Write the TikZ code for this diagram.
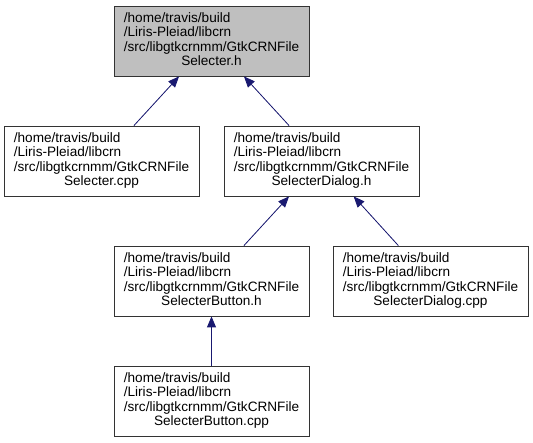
\documentclass[tikz,border=0pt]{standalone}
\usepackage{fontspec}
\setmainfont{Liberation Sans}
\usetikzlibrary{arrows.meta}

\definecolor{midnightblue}{HTML}{191970}
\definecolor{headergray}{HTML}{BFBFBF}

% file path text: three left lines, last line centered
\newcommand{\doxyfile}[1]{%
  \begin{tabular}{@{}l@{}}
  /home/travis/build\\
  /Liris-Pleiad/libcrn\\
  /src/libgtkcrnmm/GtkCRNFile\\
  \multicolumn{1}{@{}c@{}}{#1}
  \end{tabular}}

\begin{document}
\begin{tikzpicture}
[x=1pt,y=-1pt,%
  lineDecorate/.style={-{Triangle[length=11pt,width=9pt]},draw=midnightblue,fill=midnightblue,line width=0.8pt},%
  nodeDecorate/.style={shape=rectangle,draw=black!80,line width=0.8pt,inner sep=0pt,
    minimum width=195pt,minimum height=70pt}]
\fontsize{13.6}{14.5}\selectfont
\useasboundingbox (0,0) rectangle (533,443);
%% nodes or files
\foreach \nodename/\x/\y/\nodefill/\filename in {selh/211.5/41/headergray/Selecter.h,
  selcpp/101.5/161/white/Selecter.cpp, dlgh/321.5/161/white/SelecterDialog.h,
  btnh/211.5/281/white/SelecterButton.h, dlgcpp/430.5/281/white/SelecterDialog.cpp,
  btncpp/211.5/401/white/SelecterButton.cpp}
{
  \node (\nodename) at (\x,\y) [nodeDecorate,fill=\nodefill] {\doxyfile{\filename}};
}
%% edges or includes
\path
\foreach \startnode/\endnode in {selcpp/selh, dlgh/selh, btnh/dlgh, dlgcpp/dlgh, btncpp/btnh}
{
  (\startnode) edge[lineDecorate] (\endnode)
};
\end{tikzpicture}
\end{document}
